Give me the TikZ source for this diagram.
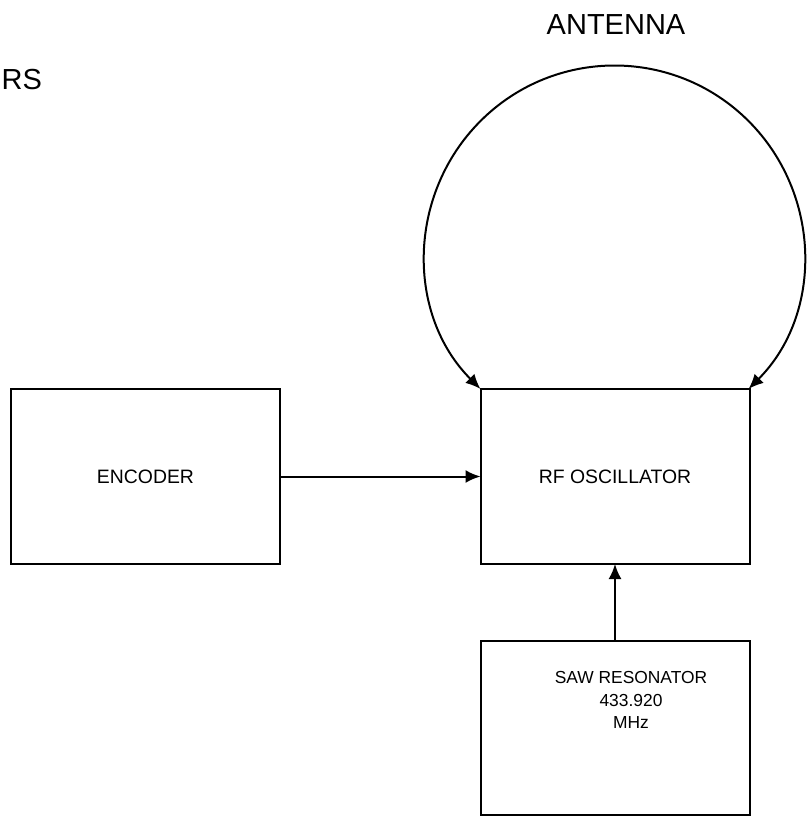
\documentclass[tikz,border=0pt]{standalone}
\usepackage{fontspec}
\setmainfont{Liberation Sans}
\usetikzlibrary{arrows.meta}
\tikzset{>={Latex[length=7.5pt,width=6.5pt]}, every picture/.style={line width=1pt}}
\tikzset{block/.style={draw, rectangle, inner sep=0pt, outer sep=0pt, minimum width=134.5pt, minimum height=87.5pt, font=\fontsize{9.7}{11}\selectfont}}

\begin{document}
\begin{tikzpicture}[x=0.5pt, y=-0.5pt]
\useasboundingbox (0,0) rectangle (812,819);
\node (rf) at (615,476.5) [block] {RF OSCILLATOR};
\node (enc) [left of=rf, node distance=234.75pt, block] {ENCODER};
\node (saw) [below of=rf, node distance=125.75pt, block, minimum height=87pt] {};
\node (sawtxt) at (631,700) [align=center, inner sep=0pt, font=\fontsize{8.7}{11.25}\selectfont] {SAW RESONATOR\\433.920\\MHz};
\node (ant) at (616,25) [font=\fontsize{14.5}{17}\selectfont] {ANTENNA};
\node (rs) at (43,80) [anchor=east, inner sep=0pt, font=\fontsize{14.5}{17}\selectfont] {RS};
\draw[->] (enc) -- (rf);
\draw[->] (saw) -- (rf);
\draw[<->] (rf.north west) arc[start angle=225, end angle=-45, radius=94.75pt];
\end{tikzpicture}
\end{document}
